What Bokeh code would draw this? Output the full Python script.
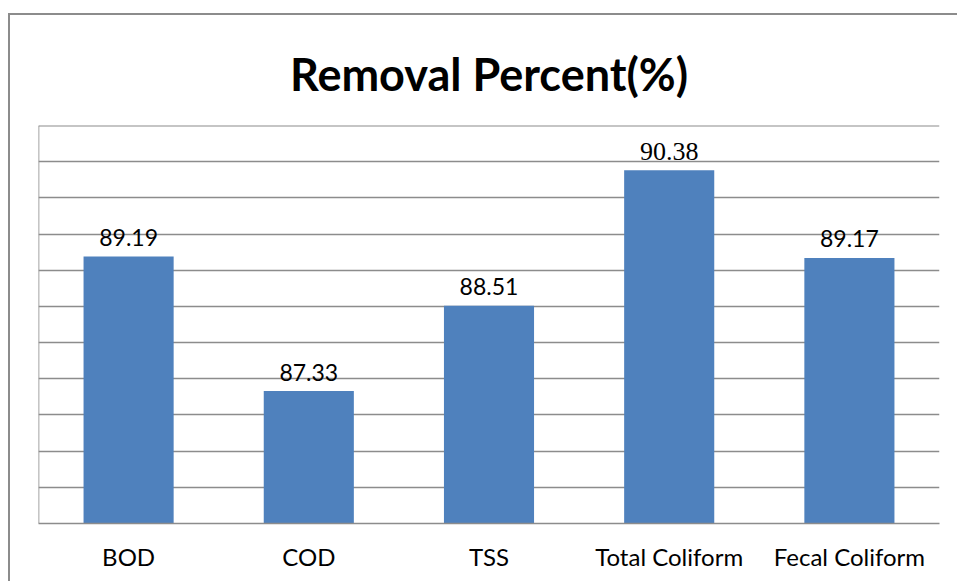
from bokeh.plotting import figure
from bokeh.models import ColumnDataSource, FixedTicker, Span
from bokeh.embed import file_html
from bokeh.resources import INLINE

categories = ["BOD", "COD", "TSS", "Total Coliform", "Fecal Coliform"]
removal = [89.19, 87.33, 88.51, 90.38, 89.17]
labels = ["89.19", "87.33", "88.51", "90.38", "89.17"]
label_fonts = ["Lato", "Lato", "Lato", "Liberation Serif", "Lato"]
label_sizes = ["23px", "23px", "23px", "26px", "23px"]
y_start = 85.5
y_end = 91.0
y_ticks = [85.5, 86.0, 86.5, 87.0, 87.5, 88.0, 88.5, 89.0, 89.5, 90.0, 90.5, 91.0]

src = ColumnDataSource(dict(cat=categories, val=removal, lab=labels,
                            font=label_fonts, size=label_sizes))

GRAY = "#8c8c8c"

p = figure(x_range=categories, y_range=(y_start, y_end), width=949, height=568,
           output_backend="svg", toolbar_location=None,
           min_border_left=28, min_border_right=20, min_border_top=110,
           min_border_bottom=60, background_fill_color="white",
           border_fill_color="white", outline_line_color=None,
           margin=(13, 0, 0, 8),
           styles={"border-left": "2px solid " + GRAY, "border-top": "2px solid " + GRAY})

p.title.text = "Removal Percent(%)"
p.title.text_font = "Lato"
p.title.text_font_style = "bold"
p.title.text_font_size = "45px"
p.title.align = "center"
p.title.text_color = "black"
p.title.standoff = 50

p.vbar(x="cat", top="val", bottom=y_start, width=0.5, source=src,
       fill_color="#4F81BD", line_color=None)

p.text(x="cat", y="val", text="lab", source=src, text_align="center",
       text_baseline="alphabetic", y_offset=-19, text_font="font",
       text_font_size="size", text_color="black")

p.xgrid.grid_line_color = None
p.ygrid.ticker = FixedTicker(ticks=y_ticks)
p.ygrid.grid_line_color = GRAY
p.ygrid.grid_line_width = 1.6
p.yaxis.visible = False

p.add_layout(Span(location=y_end, dimension="width", line_color=GRAY, line_width=2))
p.add_layout(Span(location=0, dimension="height", line_color=GRAY, line_width=1.6))

p.xaxis.axis_line_color = GRAY
p.xaxis.axis_line_width = 1.6
p.xaxis.major_tick_line_color = None
p.xaxis.minor_tick_line_color = None
p.xaxis.major_label_text_font = "Lato"
p.xaxis.major_label_text_font_size = "24px"
p.xaxis.major_label_text_color = "black"
p.xaxis.major_label_standoff = 12

open("out.html", "w").write(file_html(p, INLINE))
